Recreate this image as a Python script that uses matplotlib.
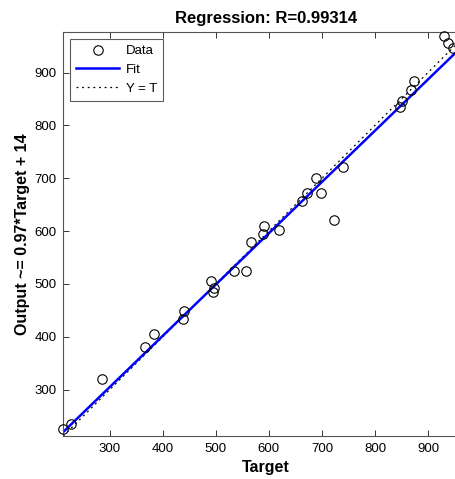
import matplotlib
matplotlib.use("Agg")
import matplotlib.pyplot as plt
import numpy as np

plt.rcParams['font.family'] = ['Liberation Sans', 'DejaVu Sans']

target = [211, 226.5, 284.5, 366, 384, 437, 440, 490, 497, 495, 535, 557, 566,
          588, 590, 619.5, 662, 672, 689, 698, 723, 740, 847, 850.5, 868, 874,
          930, 938, 947]
output = [226, 235, 320, 381, 406, 434, 449, 505, 492, 485, 525, 524, 579,
          594, 609, 602, 656, 672, 700, 673, 620, 721, 835, 846, 868, 884,
          969, 957, 946]
slope, intercept = 0.97, 14
r_value = "0.99314"
xticks = [300, 400, 500, 600, 700, 800, 900]
yticks = [300, 400, 500, 600, 700, 800, 900]
lims = (212, 976)

fig = plt.figure(figsize=(4.56, 4.79), dpi=100)
ax = fig.add_axes([0.1388, 0.0898, 0.888, 0.8424])

xs = np.array(lims, dtype=float)
ax.plot(target, output, 'o', mfc='none', mec='black', ms=6.8, mew=0.8,
        label='Data', zorder=3, clip_on=False)
ax.plot(xs, slope * xs + intercept, color='#0000ff', lw=1.8, label='Fit', zorder=2)
ax.plot(xs, xs, color='black', ls=(0, (1.5, 3)), lw=0.9, label='Y = T', zorder=1)

ax.set_xlim(lims)
ax.set_ylim(lims)
ax.set_xticks(xticks)
ax.set_yticks(yticks)
ax.tick_params(direction='in', length=4, width=0.7, colors='#333333',
               labelcolor='black', labelsize=9.5, top=True, right=True, pad=5)
for s in ax.spines.values():
    s.set_color('#555555')
    s.set_linewidth(0.8)

ax.set_title('Regression: R=' + r_value, fontsize=12, fontweight='bold', pad=7)
ax.set_xlabel('Target', fontsize=11.5, fontweight='bold', labelpad=4)
ax.set_ylabel('Output ~= %.2g*Target + %d' % (slope, intercept), fontsize=11.5,
              fontweight='bold', labelpad=3)

leg = ax.legend(loc='upper left', fontsize=9.5, frameon=True, fancybox=False,
                edgecolor='#333333', borderaxespad=0.5, handlelength=3.3,
                borderpad=0.45, labelspacing=0.5, handletextpad=0.5)
leg.get_frame().set_linewidth(0.8)

fig.savefig('out.png', dpi=100)
